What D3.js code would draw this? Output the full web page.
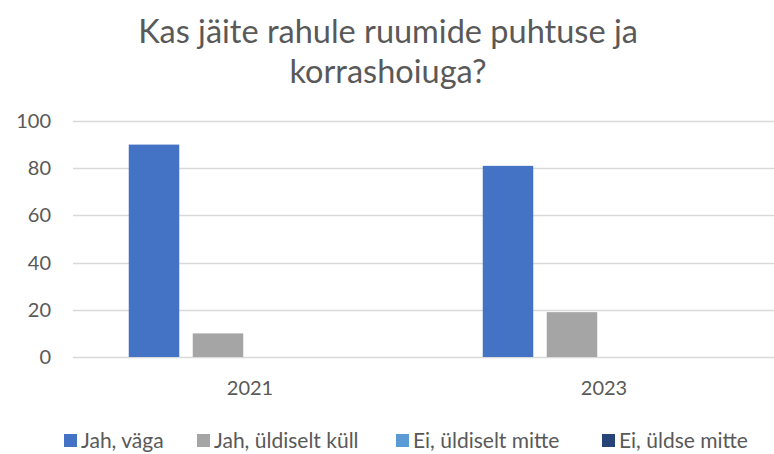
<!DOCTYPE html>
<html>
<head>
<meta charset="utf-8">
<script src="https://cdn.jsdelivr.net/npm/d3@7"></script>
<style>
  body { margin: 0; background: #fff; }
  text { font-family: Lato, "Open Sans", sans-serif; fill: #595959; }
</style>
</head>
<body>
<div id="chart"></div>
<script>
// Data
const years = ["2021", "2023"];
const seriesNames = ["Jah, väga", "Jah, üldiselt küll", "Ei, üldiselt mitte", "Ei, üldse mitte"];
const seriesColors = ["#4472C4", "#A5A5A5", "#5B9BD5", "#264478"];
const jahVaga = [90, 81];
const jahUldiseltKull = [10, 19];
const eiUldiseltMitte = [0, 0];
const eiUldseMitte = [0, 0];
const yTicks = [0, 20, 40, 60, 80, 100];
const titleLines = ["Kas jäite rahule ruumide puhtuse ja", "korrashoiuga?"];

const seriesValues = [jahVaga, jahUldiseltKull, eiUldiseltMitte, eiUldseMitte];

// Style properties
const size = { width: 774, height: 454 };
const plot = { left: 73, right: 781, top: 121, bottom: 357 };
const gridColor = "#D9D9D9";

const svg = d3.select("#chart")
  .append("svg")
  .attr("width", size.width)
  .attr("height", size.height);

// Scales
const yScale = d3.scaleLinear([0, 100], [plot.bottom, plot.top]);
const xScale = d3.scaleBand(years, [plot.left, plot.right]);
const seriesScale = d3.scaleBand(d3.range(seriesNames.length), [0, xScale.bandwidth()])
  .paddingInner(0.211)
  .paddingOuter(0.871);

// Title
svg.append("g")
  .selectAll("text")
  .data(titleLines)
  .join("text")
  .attr("x", size.width / 2 + 1)
  .attr("y", (d, i) => 43 + i * 40)
  .attr("text-anchor", "middle")
  .style("font-size", "32.5px")
  .text((d) => d);

// Gridlines
svg.append("g")
  .selectAll("line")
  .data(yTicks)
  .join("line")
  .attr("x1", plot.left)
  .attr("x2", size.width)
  .attr("y1", (d) => Math.round(yScale(d)) + 0.5)
  .attr("y2", (d) => Math.round(yScale(d)) + 0.5)
  .attr("stroke", gridColor)
  .attr("stroke-width", 1.5);

// Y axis labels
const yAxis = (g) =>
  g.attr("transform", `translate(${plot.left},0)`)
    .call(d3.axisLeft(yScale).tickValues(yTicks).tickSize(0).tickPadding(22))
    .call((g) => g.select(".domain").remove())
    .call((g) => g.selectAll("text")
      .style("font-size", "20px")
      .attr("font-family", null)
      .attr("fill", null));
svg.append("g").call(yAxis);

// Bars
const groups = svg.append("g")
  .selectAll("g")
  .data(years)
  .join("g")
  .attr("transform", (d) => `translate(${xScale(d)},0)`);

groups.selectAll("rect")
  .data((d, yi) => seriesValues.map((vals, si) => ({ si, value: vals[yi] })))
  .join("rect")
  .attr("x", (d) => seriesScale(d.si))
  .attr("y", (d) => yScale(d.value))
  .attr("width", seriesScale.bandwidth())
  .attr("height", (d) => yScale(0) - yScale(d.value))
  .attr("fill", (d) => seriesColors[d.si]);

// X axis labels
const xAxis = (g) =>
  g.attr("transform", `translate(0,${plot.bottom})`)
    .call(d3.axisBottom(xScale).tickSize(0).tickPadding(24))
    .call((g) => g.select(".domain").remove())
    .call((g) => g.selectAll("text")
      .style("font-size", "20px")
      .attr("font-family", null)
      .attr("fill", null));
svg.append("g").call(xAxis);

// Legend
const legendX = [64, 197, 396, 602];
const legend = svg.append("g")
  .selectAll("g")
  .data(seriesNames)
  .join("g")
  .attr("transform", (d, i) => `translate(${legendX[i]},434)`);

legend.append("rect")
  .attr("width", 13)
  .attr("height", 13)
  .attr("fill", (d, i) => seriesColors[i]);

legend.append("text")
  .attr("x", 17)
  .attr("y", 14)
  .style("font-size", "21px")
  .text((d) => d);
</script>
</body>
</html>
